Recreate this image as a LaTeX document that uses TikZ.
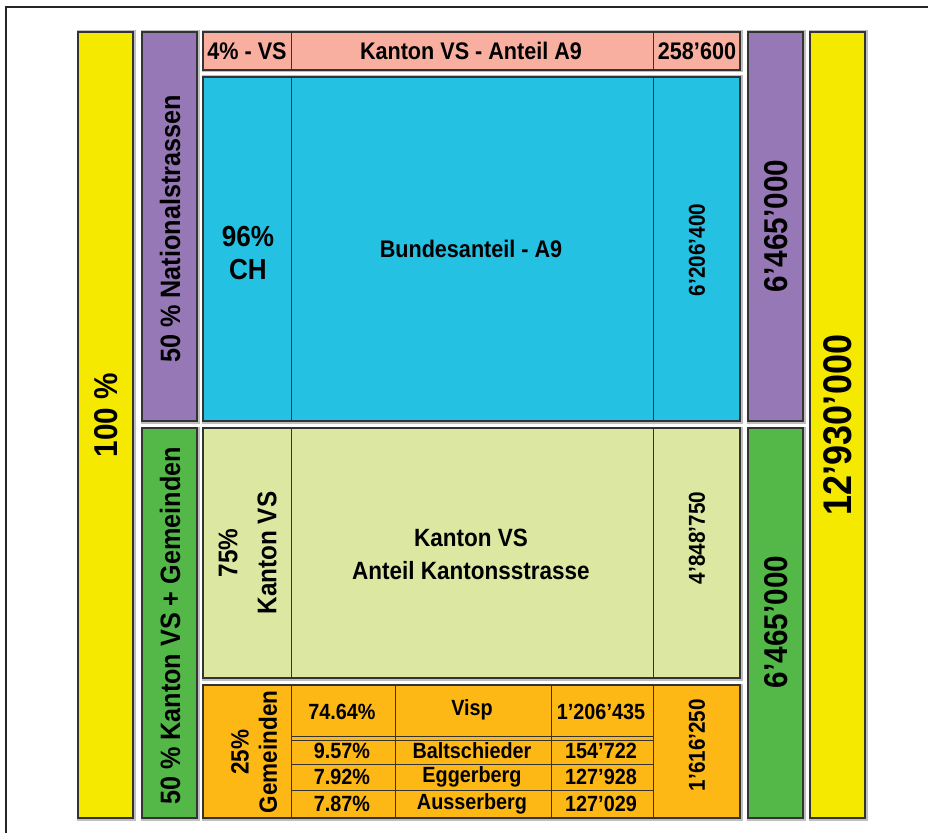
\documentclass[tikz,border=0pt]{standalone}
\usepackage{fontspec}
\setmainfont{Liberation Sans}[FakeStretch=0.9]
\definecolor{cyel}{HTML}{F6E900}
\definecolor{cpur}{HTML}{9678B6}
\definecolor{cpink}{HTML}{F8AFA0}
\definecolor{ccyan}{HTML}{25C1E3}
\definecolor{clgr}{HTML}{DCE8A1}
\definecolor{cgrn}{HTML}{54B849}
\definecolor{corg}{HTML}{FDB816}
\newcommand\cellbox[5]{%
  \fill[black!55,opacity=.45] (#1-1.5,#2-1.5) rectangle (#3+2.5,#4+2.5);
  \draw[box,fill=#5] (#1,#2) rectangle (#3,#4);}
\begin{document}
\begin{tikzpicture}[x=1pt,y=-1pt,
  box/.style={draw=black!80,line width=1.1pt},
  sep/.style={draw=black!80,line width=1pt},
  t/.style={inner sep=0pt,align=center,font=\bfseries\fontsize{#1}{#1}\selectfont},
  t/.default=18]
\useasboundingbox (0,0) rectangle (928,832);
\fill[white] (0,0) rectangle (928,832);
% outer frame
\draw[line width=2.6pt,black!85] (6,850) -- (6,7) -- (940,7);
% side bars
\cellbox{78}{32}{133}{818}{cyel}
\cellbox{810}{32}{865}{818}{cyel}
\cellbox{142}{32}{197}{421}{cpur}
\cellbox{748}{32}{803}{421}{cpur}
\cellbox{142}{428}{197}{818}{cgrn}
\cellbox{748}{428}{803}{818}{cgrn}
% central blocks
\cellbox{203}{32}{740}{70}{cpink}
\cellbox{203}{77}{740}{421}{ccyan}
\cellbox{203}{428}{740}{678}{clgr}
\cellbox{203}{685}{740}{818}{corg}
% column separators
\foreach \ya/\yb in {32/70,77/421,428/678,685/818}{
  \draw[sep] (291,\ya) -- (291,\yb);
  \draw[sep] (653,\ya) -- (653,\yb);}
\draw[sep] (395,685) -- (395,818);
\draw[sep] (551,685) -- (551,818);
\draw[sep] (291,736) -- (653,736);
\draw[sep] (291,740.5) -- (653,740.5);
\draw[sep] (291,764) -- (653,764);
\draw[sep] (291,790) -- (653,790);
% texts
\node[t=33,rotate=90] (p100) at (106,415) {100 \%};
\node[t=40,rotate=90] (tot) at (838,425) {12'930'000};
\node[t=28,rotate=90] (nat) at (170,229) {50 \% Nationalstrassen};
\node[t=28,rotate=90] (kg) at (170,626) {50 \% Kanton VS + Gemeinden};
\node[t=33,rotate=90] (r1) at (776,226) {6'465'000};
\node[t=33,rotate=90] (r2) at (776,622) {6'465'000};
\node[t=24] (a1) at (247,51) {4\% - VS};
\node[t=24] (a2) at (471,51) {Kanton VS - Anteil A9};
\node[t=24] (a3) at (697,51) {258'600};
\node[t=29] (b1) at (248,237) {96\%};
\node[t=29] (b1b) at (248,270) {CH};
\node[t=24] (b2) at (471,249) {Bundesanteil - A9};
\node[t=23,rotate=90] (b3) at (697,250) {6'206'400};
\node[t=27,rotate=90] (c1) at (228,553) {75\%};
\node[t=27,rotate=90] (c1b) at (267,553) {Kanton VS};
\node[t=25] (c2) at (471,538) {Kanton VS};
\node[t=25] (c2b) at (471,571) {Anteil Kantonsstrasse};
\node[t=23,rotate=90] (c3) at (697,538) {4'848'750};
\node[t=25,rotate=90] (d1) at (240,752) {25\%};
\node[t=25,rotate=90] (d1b) at (268,752) {Gemeinden};
\node[t=23,rotate=90] (d2) at (697,745) {1'616'250};
\node[t=22] (e1) at (342,712) {74.64\%};
\node[t=22] (e2) at (472,710) {Visp};
\node[t=22] (e3) at (601,712) {1'206'435};
\node[t=22] (f1) at (342,751) {9.57\%};
\node[t=22] (f2) at (472,751) {Baltschieder};
\node[t=22] (f3) at (601,751) {154'722};
\node[t=22] (g1) at (342,777) {7.92\%};
\node[t=22] (g2) at (472,777) {Eggerberg};
\node[t=22] (g3) at (601,777) {127'928};
\node[t=22] (h1) at (342,804) {7.87\%};
\node[t=22] (h2) at (472,804) {Ausserberg};
\node[t=22] (h3) at (601,804) {127'029};
\end{tikzpicture}
\end{document}
